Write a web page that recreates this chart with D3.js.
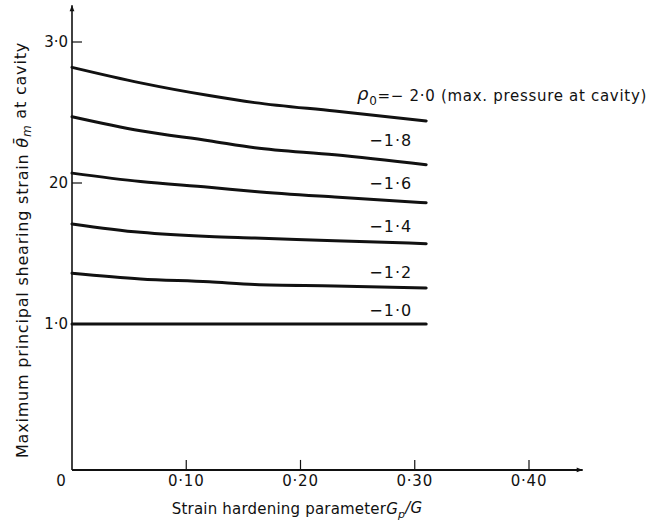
<!DOCTYPE html>
<html>
<head>
<meta charset="utf-8">
<script src="https://cdn.jsdelivr.net/npm/d3@7"></script>
<style>
  html, body { margin: 0; padding: 0; background: #fff; }
  svg { display: block; }
  text { font-family: "DejaVu Sans", sans-serif; fill: #111; }
</style>
</head>
<body>
<svg id="chart" width="661" height="527"></svg>
<script>
// ---- data ----
const xValues = [0, 0.06, 0.12, 0.16, 0.23, 0.31];
const seriesP20 = [2.82, 2.71, 2.62, 2.57, 2.51, 2.44];
const seriesP18 = [2.47, 2.37, 2.30, 2.25, 2.20, 2.13];
const seriesP16 = [2.07, 2.01, 1.97, 1.94, 1.90, 1.86];
const seriesP14 = [1.71, 1.65, 1.62, 1.61, 1.59, 1.57];
const seriesP12 = [1.36, 1.32, 1.30, 1.28, 1.27, 1.255];
const seriesP10 = [1.00, 1.00, 1.00, 1.00, 1.00, 1.00];
const seriesLabels = ["−1·8", "−1·6", "−1·4", "−1·2", "−1·0"];
const xTickValues = [0.1, 0.2, 0.3, 0.4];
const xTickLabels = ["0·10", "0·20", "0·30", "0·40"];
const yTickValues = [1, 2, 3];
const yTickLabels = ["1·0", "20", "3·0"];

const svg = d3.select("#chart");
const x = d3.scaleLinear().domain([0, 0.4]).range([72, 529]);
const y = d3.scaleLinear().domain([0, 3]).range([465, 42]);

const x0 = x(0), yAxisPos = y(-0.035);

// arrow marker
const defs = svg.append("defs");
defs.append("marker").attr("id", "arr").attr("viewBox", "0 0 10 10")
  .attr("refX", 10).attr("refY", 5).attr("markerWidth", 14).attr("markerHeight", 6)
  .attr("markerUnits", "userSpaceOnUse").attr("orient", "auto")
  .append("path").attr("d", "M0,1 L10,5 L0,9 Z").attr("fill", "#111");

// y axis line with arrow
svg.append("line").attr("x1", x0).attr("y1", yAxisPos).attr("x2", x0).attr("y2", y(3.26))
  .attr("stroke", "#111").attr("stroke-width", 1.6).attr("marker-end", "url(#arr)");
// x axis line with arrow
svg.append("line").attr("x1", x0).attr("y1", yAxisPos).attr("x2", x(0.447)).attr("y2", yAxisPos)
  .attr("stroke", "#111").attr("stroke-width", 2).attr("marker-end", "url(#arr)");

// x ticks (upwards)
svg.selectAll(".xt").data(xTickValues).enter().append("line")
  .attr("x1", d => x(d)).attr("x2", d => x(d)).attr("y1", yAxisPos).attr("y2", yAxisPos - 10)
  .attr("stroke", "#111").attr("stroke-width", 1.2);
svg.selectAll(".xl").data(xTickValues).enter().append("text")
  .attr("x", d => x(d)).attr("y", 481).attr("dy", "0.35em").attr("text-anchor", "middle")
  .attr("font-size", 15).attr("letter-spacing", 0.8).text((d, i) => xTickLabels[i]);
svg.append("text").attr("x", x0 - 11).attr("y", 481).attr("dy", "0.35em")
  .attr("text-anchor", "middle").attr("font-size", 15).text("0");

// y ticks (rightwards)
svg.selectAll(".yt").data(yTickValues).enter().append("line")
  .attr("x1", x0).attr("x2", x0 + 10).attr("y1", d => y(d)).attr("y2", d => y(d))
  .attr("stroke", "#111").attr("stroke-width", 1.2);
svg.selectAll(".yl").data(yTickValues).enter().append("text")
  .attr("x", x0 - 4).attr("y", d => y(d)).attr("dy", "0.35em").attr("text-anchor", "end")
  .attr("font-size", 15).text((d, i) => yTickLabels[i]);

// curves
const allSeries = [seriesP20, seriesP18, seriesP16, seriesP14, seriesP12, seriesP10];
const line = d3.line().x((d, i) => x(xValues[i])).y(d => y(d)).curve(d3.curveMonotoneX);
svg.selectAll(".curve").data(allSeries).enter().append("path")
  .attr("d", d => line(d)).attr("fill", "none").attr("stroke", "#111")
  .attr("stroke-width", 3).attr("stroke-linecap", "round");

// curve labels
svg.selectAll(".cl").data(allSeries.slice(1)).enter().append("text")
  .attr("x", x(0.279)).attr("y", d => y(d[4]) - 14).attr("dy", "0.35em")
  .attr("text-anchor", "middle").attr("font-size", 16).attr("letter-spacing", 1)
  .text((d, i) => seriesLabels[i]);

const t = svg.append("text").attr("x", x(0.2495)).attr("y", y(seriesP20[4]) - 16)
  .attr("dy", "0.35em").attr("font-size", 15).attr("letter-spacing", 0.7);
t.append("tspan").attr("font-style", "italic").attr("font-size", 18).text("ρ");
t.append("tspan").attr("font-size", 12).attr("dy", "0.35em").text("0");
t.append("tspan").attr("dy", "-0.25em").text("=− 2·0 (max. pressure at cavity)");

// axis titles
svg.append("text").attr("x", 297).attr("y", 509).attr("dy", "0.35em")
  .attr("text-anchor", "middle").attr("font-size", 15).attr("letter-spacing", 0.2)
  .call(s => {
    s.append("tspan").text("Strain hardening parameter");
    s.append("tspan").attr("font-style", "italic").text("G");
    s.append("tspan").attr("font-style", "italic").attr("font-size", 11).attr("dy", "0.3em").text("p");
    s.append("tspan").attr("font-style", "italic").attr("dy", "-0.3em").text("/G");
  });

svg.append("text").attr("transform", "translate(22,250) rotate(-90)")
  .attr("text-anchor", "middle").attr("dy", "0.35em").attr("font-size", 16).attr("letter-spacing", 0.8)
  .call(s => {
    s.append("tspan").text("Maximum principal shearing strain ");
    s.append("tspan").attr("font-style", "italic").text("θ̄");
    s.append("tspan").attr("font-style", "italic").attr("font-size", 12).attr("dy", "0.3em").text("m");
    s.append("tspan").attr("dy", "-0.3em").text(" at cavity");
  });
</script>
</body>
</html>
